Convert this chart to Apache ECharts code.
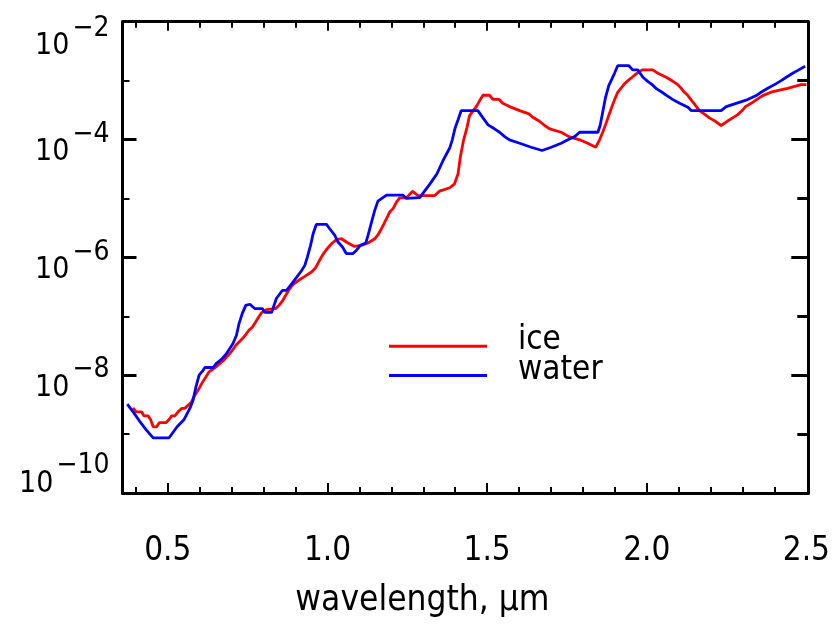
<!DOCTYPE html>
<html>
<head>
<meta charset="utf-8">
<script src="https://cdn.jsdelivr.net/npm/echarts@6/dist/echarts.min.js"></script>
<style>
html,body{margin:0;padding:0;background:#fff;}
#chart{width:832px;height:643px;}
</style>
</head>
<body>
<div id="chart"></div>
<script>
// ---- data ----
const waterWavelength = [0.373,0.394,0.415,0.433,0.454,0.504,0.529,0.551,0.569,0.579,0.588,0.598,0.609,0.616,0.642,0.652,0.668,0.684,0.704,0.715,0.723,0.733,0.744,0.757,0.772,0.796,0.804,0.825,0.840,0.859,0.872,0.892,0.918,0.929,0.937,0.947,0.955,0.965,0.997,1.007,1.023,1.033,1.047,1.059,1.080,1.091,1.103,1.120,1.127,1.138,1.148,1.158,1.169,1.185,1.236,1.247,1.289,1.304,1.320,1.343,1.362,1.383,1.391,1.399,1.409,1.419,1.471,1.487,1.503,1.523,1.539,1.555,1.570,1.602,1.638,1.672,1.701,1.732,1.753,1.774,1.790,1.847,1.854,1.862,1.871,1.881,1.891,1.899,1.909,1.944,1.956,1.972,1.988,2.003,2.017,2.031,2.048,2.063,2.082,2.103,2.129,2.139,2.233,2.249,2.280,2.316,2.343,2.358,2.379,2.400,2.421,2.437,2.457,2.476,2.496];
const waterAbsorption = [3.22e-9,2.27e-9,1.56e-9,1.17e-9,8.65e-10,8.65e-10,1.33e-9,1.77e-9,2.73e-9,3.77e-9,6.34e-9,1.0e-8,1.18e-8,1.35e-8,1.35e-8,1.58e-8,1.85e-8,2.33e-8,3.44e-8,4.76e-8,7.52e-8,1.11e-7,1.53e-7,1.60e-7,1.35e-7,1.35e-7,1.16e-7,1.16e-7,2.0e-7,2.76e-7,2.76e-7,3.81e-7,5.86e-7,7.31e-7,1.01e-6,1.60e-6,2.52e-6,3.62e-6,3.62e-6,3.06e-6,2.36e-6,1.82e-6,1.50e-6,1.16e-6,1.16e-6,1.32e-6,1.60e-6,1.75e-6,2.36e-6,3.96e-6,6.27e-6,8.99e-6,9.89e-6,1.14e-5,1.14e-5,1.0e-5,1.03e-5,1.33e-5,1.73e-5,2.62e-5,4.41e-5,7.23e-5,9.89e-5,1.52e-4,2.16e-4,3.10e-4,3.10e-4,2.33e-4,1.77e-4,1.52e-4,1.33e-4,1.12e-4,9.89e-5,8.65e-5,7.40e-5,6.52e-5,7.40e-5,8.65e-5,9.89e-5,1.12e-4,1.33e-4,1.33e-4,1.73e-4,2.90e-4,5.21e-4,8.22e-4,1.07e-3,1.33e-3,1.79e-3,1.79e-3,1.52e-3,1.52e-3,1.14e-3,9.73e-4,8.55e-4,7.23e-4,6.34e-4,5.57e-4,4.76e-4,4.12e-4,3.52e-4,3.10e-4,3.10e-4,3.62e-4,4.12e-4,4.76e-4,5.57e-4,6.34e-4,7.40e-4,8.55e-4,1.0e-3,1.14e-3,1.33e-3,1.52e-3,1.75e-3];

const iceWavelength = [0.391,0.400,0.418,0.425,0.438,0.446,0.454,0.465,0.473,0.494,0.504,0.512,0.522,0.532,0.543,0.553,0.564,0.574,0.581,0.588,0.598,0.609,0.619,0.629,0.647,0.663,0.675,0.686,0.696,0.704,0.713,0.723,0.734,0.744,0.754,0.765,0.775,0.786,0.793,0.809,0.838,0.848,0.859,0.866,0.877,0.887,0.898,0.913,0.929,0.950,0.963,0.974,0.984,0.995,1.005,1.015,1.028,1.044,1.064,1.085,1.106,1.127,1.148,1.158,1.169,1.177,1.187,1.195,1.206,1.216,1.226,1.247,1.257,1.267,1.273,1.283,1.336,1.351,1.383,1.398,1.409,1.416,1.426,1.437,1.445,1.466,1.477,1.487,1.508,1.518,1.537,1.549,1.570,1.602,1.631,1.643,1.664,1.680,1.696,1.732,1.756,1.790,1.815,1.840,1.852,1.862,1.871,1.881,1.891,1.899,1.909,1.920,1.930,1.941,1.954,1.969,1.986,2.019,2.035,2.061,2.082,2.097,2.108,2.118,2.129,2.139,2.149,2.165,2.183,2.196,2.215,2.233,2.252,2.269,2.285,2.299,2.309,2.327,2.344,2.363,2.395,2.441,2.483,2.500];
const iceAbsorption = [2.79e-9,2.39e-9,2.39e-9,2.04e-9,2.04e-9,1.77e-9,1.33e-9,1.33e-9,1.56e-9,1.56e-9,1.77e-9,2.04e-9,2.04e-9,2.39e-9,2.73e-9,2.73e-9,3.10e-9,3.52e-9,4.19e-9,4.90e-9,5.96e-9,7.69e-9,9.35e-9,1.14e-8,1.33e-8,1.58e-8,1.79e-8,2.10e-8,2.39e-8,2.73e-8,3.22e-8,3.66e-8,4.19e-8,4.90e-8,5.79e-8,6.59e-8,8.0e-8,1.0e-7,1.14e-7,1.30e-7,1.35e-7,1.53e-7,1.82e-7,2.12e-7,2.69e-7,3.22e-7,3.66e-7,4.19e-7,4.76e-7,5.64e-7,6.68e-7,8.65e-7,1.08e-6,1.32e-6,1.53e-6,1.75e-6,2.0e-6,2.07e-6,1.75e-6,1.53e-6,1.60e-6,1.75e-6,2.07e-6,2.40e-6,3.06e-6,3.72e-6,4.76e-6,5.90e-6,6.78e-6,8.65e-6,1.02e-5,1.02e-5,1.17e-5,1.32e-5,1.35e-5,1.12e-5,1.12e-5,1.33e-5,1.52e-5,1.77e-5,2.62e-5,5.01e-5,9.62e-5,1.61e-4,2.55e-4,3.62e-4,4.58e-4,5.64e-4,5.64e-4,4.82e-4,4.82e-4,4.12e-4,3.62e-4,3.10e-4,2.73e-4,2.39e-4,2.04e-4,1.73e-4,1.52e-4,1.33e-4,1.12e-4,9.89e-5,8.65e-5,7.40e-5,9.8e-5,1.33e-4,1.79e-4,2.55e-4,3.62e-4,4.71e-4,6.34e-4,7.52e-4,8.79e-4,1.0e-3,1.14e-3,1.33e-3,1.52e-3,1.52e-3,1.33e-3,1.14e-3,9.73e-4,8.55e-4,7.40e-4,6.34e-4,5.57e-4,4.71e-4,4.03e-4,3.10e-4,2.65e-4,2.33e-4,2.04e-4,1.73e-4,2.04e-4,2.33e-4,2.65e-4,3.10e-4,3.62e-4,4.12e-4,4.76e-4,5.57e-4,6.52e-4,7.40e-4,8.55e-4,8.55e-4];

const seriesNames = ['ice', 'water'];
const xLabelValues = [0.5, 1.0, 1.5, 2.0, 2.5];
const xMinorTickValues = [0.4,0.5,0.6,0.7,0.8,0.9,1.0,1.1,1.2,1.3,1.4,1.5,1.6,1.7,1.8,1.9,2.0,2.1,2.2,2.3,2.4];
const xMajorTickValues = [0.5, 1.0, 1.5, 2.0];
const xAxisTitle = 'wavelength, µm';
const xMin = 0.358, xMax = 2.506;
const yMin = 1e-10, yMax = 1e-2;

// ---- chart ----
const FONT = "'Liberation Sans Narrow', 'DejaVu Sans Condensed', 'Liberation Sans', sans-serif";
const pairs = (xs, ys) => xs.map((x, i) => [x, ys[i]]);

function richStyle(size, lh, padTop, padLeft) {
  return {fontSize: size, lineHeight: lh, padding: [padTop, 0, 0, padLeft], verticalAlign: 'top', fontFamily: FONT, color: '#000'};
}
const yRich = {
  b:  richStyle(30, 24, 10, 0),
  s:  richStyle(28, 22, -7, 3),
  bT: richStyle(30, 24, 22, 0),
  sT: richStyle(28, 22, 5, 3),
  bB: richStyle(30, 24, -12, 0),
  sB: richStyle(28, 22, -29, 3)
};
function yLabel(v) {
  const e = Math.round(Math.log10(v));
  let k = '';
  if (e === -2) k = 'T';
  if (e === -10) k = 'B';
  return '{b' + k + '|10}{s' + k + '|\u2212' + (-e) + '}';
}

const legendText = {
  fontSize: 33, fontFamily: FONT, color: '#000', lineHeight: 30, padding: [0, 0, 0, 26],
  rich: {t: {fontSize: 33, fontFamily: FONT, color: '#000', lineHeight: 30, verticalAlign: 'top', padding: [-7, 0, 0, 0]}}
};

const lineAx = {show: true, lineStyle: {color: '#000', width: 3}};
const chart = echarts.init(document.getElementById('chart'), null, {renderer: 'canvas'});
chart.setOption({
  animation: false,
  backgroundColor: '#fff',
  grid: {left: 122.5, right: 23.7, top: 21.7, bottom: 150, containLabel: false, outerBoundsMode: 'none'},
  xAxis: [
    {type: 'value', position: 'bottom', min: xMin, max: xMax, splitLine: {show: false},
     axisLine: lineAx,
     axisTick: {show: true, inside: true, length: 6, customValues: xMinorTickValues, lineStyle: {color: '#000', width: 2}},
     axisLabel: {show: true, customValues: xLabelValues, margin: 42, fontSize: 33, fontFamily: FONT, color: '#000',
                 formatter: v => v.toFixed(1)},
     name: xAxisTitle, nameLocation: 'middle', nameGap: 90,
     nameTextStyle: {fontSize: 35, fontFamily: FONT, color: '#000', padding: [0, 86, 0, 0]}},
    {type: 'value', position: 'bottom', min: xMin, max: xMax, splitLine: {show: false},
     axisLine: {show: false},
     axisTick: {show: true, inside: true, length: 10, customValues: xMajorTickValues, lineStyle: {color: '#000', width: 2}},
     axisLabel: {show: false}},
    {type: 'value', position: 'top', min: xMin, max: xMax, splitLine: {show: false},
     axisLine: lineAx,
     axisTick: {show: true, inside: true, length: 6, customValues: xMinorTickValues, lineStyle: {color: '#000', width: 2}},
     axisLabel: {show: false}},
    {type: 'value', position: 'top', min: xMin, max: xMax, splitLine: {show: false},
     axisLine: {show: false},
     axisTick: {show: true, inside: true, length: 9, customValues: xMajorTickValues, lineStyle: {color: '#000', width: 2}},
     axisLabel: {show: false}}
  ],
  yAxis: [
    {type: 'log', logBase: 10, position: 'left', min: yMin, max: yMax, interval: 1, splitLine: {show: false},
     axisLine: lineAx,
     axisTick: {show: true, inside: true, length: 7, lineStyle: {color: '#000', width: 2}},
     axisLabel: {show: false}},
    {type: 'log', logBase: 10, position: 'left', min: yMin, max: yMax, interval: 2, splitLine: {show: false},
     axisLine: {show: false},
     axisTick: {show: true, inside: true, length: 14, lineStyle: {color: '#000', width: 3}},
     axisLabel: {show: true, margin: 13, formatter: yLabel, rich: yRich, showMinLabel: true, showMaxLabel: true}},
    {type: 'log', logBase: 10, position: 'right', min: yMin, max: yMax, interval: 1, splitLine: {show: false},
     axisLine: lineAx,
     axisTick: {show: true, inside: true, length: 11, lineStyle: {color: '#000', width: 3}},
     axisLabel: {show: false}},
    {type: 'log', logBase: 10, position: 'right', min: yMin, max: yMax, interval: 2, splitLine: {show: false},
     axisLine: {show: false},
     axisTick: {show: true, inside: true, length: 17, lineStyle: {color: '#000', width: 3}},
     axisLabel: {show: false}}
  ],
  legend: [
    {data: [seriesNames[0]], left: 389, top: 324.2, padding: 0, icon: 'rect', itemWidth: 98, itemHeight: 3,
     formatter: n => '{t|' + n + '}', textStyle: legendText},
    {data: [seriesNames[1]], left: 389, top: 353.5, padding: 0, icon: 'rect', itemWidth: 98, itemHeight: 3,
     formatter: n => '{t|' + n + '}', textStyle: legendText}
  ],
  series: [
    {name: seriesNames[0], type: 'line', xAxisIndex: 0, yAxisIndex: 0, data: pairs(iceWavelength, iceAbsorption),
     showSymbol: false, symbol: 'none', color: '#ff0000', lineStyle: {color: '#ff0000', width: 2.8}},
    {name: seriesNames[1], type: 'line', xAxisIndex: 0, yAxisIndex: 0, data: pairs(waterWavelength, waterAbsorption),
     showSymbol: false, symbol: 'none', color: '#0000ff', lineStyle: {color: '#0000ff', width: 2.8}}
  ]
});
</script>
</body>
</html>
